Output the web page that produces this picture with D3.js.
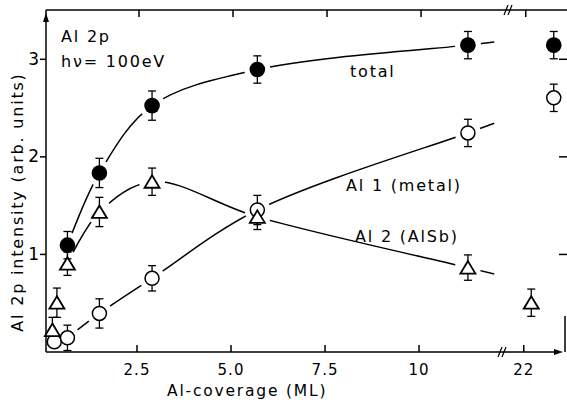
<!DOCTYPE html>
<html><head><meta charset="utf-8">
<script src="https://cdn.jsdelivr.net/npm/d3@7"></script>
<style>
html,body{margin:0;padding:0;background:#fff;}
svg{display:block;}
text{font-family:"DejaVu Sans",sans-serif;fill:#000;}
</style></head><body>
<svg id="chart" width="567" height="400"></svg>
<script>
// Al 2p core-level intensity versus Al coverage (ML)
const totalCov = [0.65, 1.5, 2.9, 5.7, 11.3, 22.8];
const totalInt = [1.09, 1.83, 2.52, 2.89, 3.14, 3.14];
const totalErr = [0.14, 0.15, 0.15, 0.14, 0.14, 0.14];

const metalCov = [0.3, 0.65, 1.5, 2.9, 5.7, 11.3, 22.8];
const metalInt = [0.10, 0.14, 0.39, 0.75, 1.45, 2.24, 2.60];
const metalErr = [0, 0.13, 0.15, 0.13, 0.15, 0.14, 0.14];

const alsbCov = [0.25, 0.37, 0.65, 1.5, 2.9, 5.7, 11.3, 22.2];
const alsbInt = [0.22, 0.50, 0.90, 1.43, 1.74, 1.38, 0.86, 0.50];
const alsbErr = [0.13, 0.15, 0.12, 0.15, 0.14, 0.13, 0.13, 0.14];

const xTicksLow = [2.5, 5, 7.5, 10];
const xTickLabelsLow = ["2.5", "5.0", "7.5", "10"];
const xTicksHigh = [22];
const xTickLabelsHigh = ["22"];
const yTicks = [1, 2, 3];
const yTickLabels = ["1", "2", "3"];

const svg = d3.select("#chart");
const W = 567, H = 400;

// broken x axis: 0..12 ML, then a short piece around 22 ML
const xLow = d3.scaleLinear().domain([0, 12.1]).range([43, 498]);
const xHigh = d3.scaleLinear().domain([21.5, 23.5]).range([505, 580]);
const X = v => (v < 15 ? xLow(v) : xHigh(v));
const y = d3.scaleLinear().domain([0, 3.5]).range([351.5, 10]);

const axisX0 = 46, axisY0 = 352, axisTop = 10, breakX = 502, arrowX = 563;
const ink = "#000";

const series = [
  {id: "total", cov: totalCov, val: totalInt, err: totalErr, shape: "filled"},
  {id: "metal", cov: metalCov, val: metalInt, err: metalErr, shape: "open"},
  {id: "alsb", cov: alsbCov, val: alsbInt, err: alsbErr, shape: "tri"}
];
series.forEach(s => {
  s.pts = s.cov.map((c, i) => ({c, v: s.val[i], e: s.err[i]}));
});

// ---- guide curves (lower segment only), masked around each series' own markers
const defs = svg.append("defs");
const curveEnd = 12.0;
const gapR = 13;
const line = d3.line().x(d => X(d[0])).y(d => y(d[1])).curve(d3.curveCatmullRom.alpha(0.5));

series.forEach(s => {
  const mask = defs.append("mask").attr("id", "gap-" + s.id)
    .attr("maskUnits", "userSpaceOnUse").attr("x", 0).attr("y", 0).attr("width", W).attr("height", H);
  mask.append("rect").attr("width", W).attr("height", H).attr("fill", "#fff");
  mask.selectAll("circle").data(s.pts).join("circle")
    .attr("cx", d => X(d.c)).attr("cy", d => y(d.v)).attr("r", gapR).attr("fill", "#000");

  const low = s.pts.filter(d => d.c >= 0.65 && d.c < 15).map(d => [d.c, d.v]);
  const a = low[low.length - 2], b = low[low.length - 1];
  const slope = (b[1] - a[1]) / (b[0] - a[0]);
  low.push([curveEnd, b[1] + slope * (curveEnd - b[0])]);

  svg.append("path").attr("d", line(low))
    .attr("fill", "none").attr("stroke", ink).attr("stroke-width", 1.5)
    .attr("mask", "url(#gap-" + s.id + ")");
});

// ---- axes
const ax = svg.append("g").attr("stroke", ink).attr("fill", "none").attr("stroke-width", 1.5);
// left axis with arrow
ax.append("line").attr("x1", axisX0).attr("x2", axisX0).attr("y1", axisY0).attr("y2", axisTop);
svg.append("path").attr("d", `M${axisX0},${axisTop + 3} l-3,9 l6,0 z`).attr("fill", ink);
// bottom axis with arrow and break
ax.append("line").attr("x1", axisX0).attr("x2", arrowX - 4).attr("y1", axisY0).attr("y2", axisY0);
svg.append("path").attr("d", `M${arrowX},${axisY0} l-9,-3 l0,6 z`).attr("fill", ink);
// top frame line with break
ax.append("line").attr("x1", axisX0).attr("x2", W).attr("y1", axisTop).attr("y2", axisTop);
// right frame: stub and ticks
ax.append("line").attr("x1", 565).attr("x2", 565).attr("y1", 316).attr("y2", axisY0);

function breakMark(cx, cy) {
  [-2, 2].forEach(dx => {
    ax.append("line").attr("x1", cx + dx - 2).attr("y1", cy + 5).attr("x2", cx + dx + 2).attr("y2", cy - 5)
      .attr("stroke-width", 1.2);
  });
}
breakMark(breakX, axisY0);
breakMark(breakX + 6, axisTop);

// x ticks (inward, bottom and top)
const xTickAll = xTicksLow.map((t, i) => ({x: xLow(t), label: xTickLabelsLow[i]}))
  .concat(xTicksHigh.map((t, i) => ({x: xHigh(t), label: xTickLabelsHigh[i]})));
xTickAll.forEach(t => {
  ax.append("line").attr("x1", t.x).attr("x2", t.x).attr("y1", axisY0).attr("y2", axisY0 - 7);
  ax.append("line").attr("x1", t.x + 2).attr("x2", t.x + 2).attr("y1", axisTop).attr("y2", axisTop + 7);
  svg.append("text").attr("x", t.x).attr("y", 375).attr("text-anchor", "middle")
    .attr("font-size", 15).attr("letter-spacing", 1).text(t.label);
});

// y ticks via d3 axis (outward) + right-hand inward ticks
const left = svg.append("g").attr("transform", `translate(${axisX0},0)`)
  .call(d3.axisLeft(y).tickValues(yTicks).tickSize(6).tickPadding(1)
    .tickFormat((d, i) => yTickLabels[i]));
left.select(".domain").remove();
left.selectAll(".tick line").attr("stroke", ink).attr("stroke-width", 1.5);
left.selectAll(".tick text").attr("font-size", 17).attr("font-family", "DejaVu Sans").attr("fill", ink);

const right = svg.append("g").attr("transform", `translate(567,0)`)
  .call(d3.axisLeft(y).tickValues(yTicks).tickSize(8).tickFormat(""));
right.select(".domain").remove();
right.selectAll(".tick line").attr("stroke", ink).attr("stroke-width", 1.5);

// ---- error bars
const eb = svg.append("g").attr("stroke", ink).attr("stroke-width", 1.3);
series.forEach(s => {
  s.pts.filter(d => d.e > 0).forEach(d => {
    const cx = X(d.c), y1 = y(d.v + d.e), y2 = y(d.v - d.e);
    eb.append("line").attr("x1", cx).attr("x2", cx).attr("y1", y1).attr("y2", y2);
    eb.append("line").attr("x1", cx - 4).attr("x2", cx + 4).attr("y1", y1).attr("y2", y1);
    eb.append("line").attr("x1", cx - 4).attr("x2", cx + 4).attr("y1", y2).attr("y2", y2);
  });
});

// ---- markers
const mk = svg.append("g");
series.forEach(s => {
  s.pts.forEach(d => {
    const cx = X(d.c), cy = y(d.v);
    if (s.shape === "filled") {
      mk.append("circle").attr("cx", cx).attr("cy", cy).attr("r", 7.8).attr("fill", ink);
    } else if (s.shape === "open") {
      mk.append("circle").attr("cx", cx).attr("cy", cy).attr("r", 7)
        .attr("fill", "#fff").attr("stroke", ink).attr("stroke-width", 1.5);
    } else {
      mk.append("path").attr("d", `M${cx},${cy - 6.5} L${cx + 7.5},${cy + 6} L${cx - 7.5},${cy + 6} Z`)
        .attr("fill", "#fff").attr("stroke", ink).attr("stroke-width", 1.8).attr("stroke-linejoin", "miter");
    }
  });
});

// ---- labels
const lab = (x, yy, t, size) => svg.append("text").attr("x", x).attr("y", yy)
  .attr("font-size", size || 16).attr("letter-spacing", 1.8).text(t);
lab(61, 42, "Al 2p");
lab(61, 67, "hν= 100eV");
lab(350, 77, "total");
lab(346, 191, "Al 1 (metal)");
lab(355, 242, "Al 2 (AlSb)");
lab(167, 396, "Al-coverage (ML)", 15.5);

svg.append("text").attr("transform", "translate(23,202) rotate(-90)")
  .attr("text-anchor", "middle").attr("font-size", 16).attr("letter-spacing", 1.8)
  .text("Al 2p intensity (arb. units)");
</script>
</body></html>
